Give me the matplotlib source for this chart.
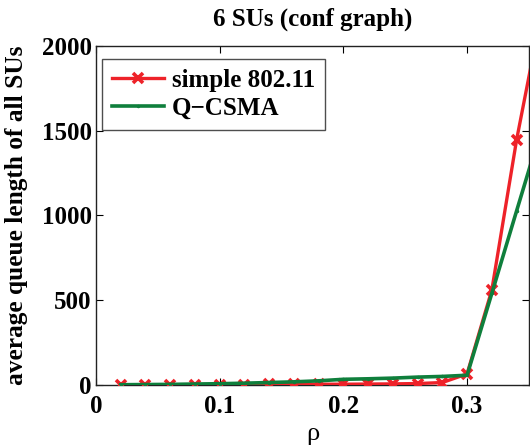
import matplotlib
matplotlib.use("Agg")
import matplotlib.pyplot as plt

rho = [0.02, 0.04, 0.06, 0.08, 0.10, 0.12, 0.14, 0.16, 0.18, 0.20,
       0.22, 0.24, 0.26, 0.28, 0.30, 0.32, 0.34, 0.36]
simple_80211 = [1, 1, 1, 2, 2, 2, 3, 3, 4, 4, 5, 6, 8, 14, 65, 560, 1445, 2193]
q_csma = [1, 2, 3, 5, 7, 10, 14, 18, 24, 33, 36, 40, 46, 50, 57, 540, 1026, 1510]

xticks = [0, 0.1, 0.2, 0.3]
xticklabels = ["0", "0.1", "0.2", "0.3"]
yticks = [0, 500, 1000, 1500, 2000]
yticklabels = ["0", "500", "1000", "1500", "2000"]

plt.rcParams['font.family'] = ['Liberation Serif', 'DejaVu Serif']

fig = plt.figure(figsize=(5.30, 4.46), dpi=100)
ax = fig.add_axes([0.181, 0.137, 0.817, 0.760])

red = '#ee2229'
green = '#0f7f3c'
ax.plot(rho, simple_80211, color=red, lw=2.4, marker='x', ms=7.5, mew=2.6,
        label='simple 802.11', zorder=3)
ax.plot(rho, q_csma, color=green, lw=2.6, marker='.', ms=3,
        label='Q\u2212CSMA', zorder=4)

ax.set_xlim(0, 0.35)
ax.set_ylim(0, 2000)
ax.set_xticks(xticks)
ax.set_xticklabels(xticklabels)
ax.set_yticks(yticks)
ax.set_yticklabels(yticklabels)
ax.tick_params(direction='in', top=True, right=True, length=5, width=0.8,
               labelsize=18, pad=3)
ax.tick_params(axis='x', pad=7)
for lab in ax.get_xticklabels() + ax.get_yticklabels():
    lab.set_fontweight('bold')
for s in ax.spines.values():
    s.set_linewidth(1.0)
    s.set_color('#222222')

ax.set_title('6 SUs (conf graph)', fontsize=18, fontweight='bold', pad=15)
ax.set_xlabel('\u03c1', fontsize=19, labelpad=4)
ax.set_ylabel('average queue length of all SUs', fontsize=18.3,
              fontweight='bold', labelpad=10)

leg = ax.legend(loc='upper left', bbox_to_anchor=(0.013, 0.962),
                fontsize=18, frameon=True, fancybox=False,
                edgecolor='#222222', borderaxespad=0.0, handlelength=2.1,
                borderpad=0.4, labelspacing=0.2, handletextpad=0.3)
leg.get_frame().set_linewidth(1.0)
for t in leg.get_texts():
    t.set_fontweight('bold')

fig.savefig('out.png', dpi=100)
